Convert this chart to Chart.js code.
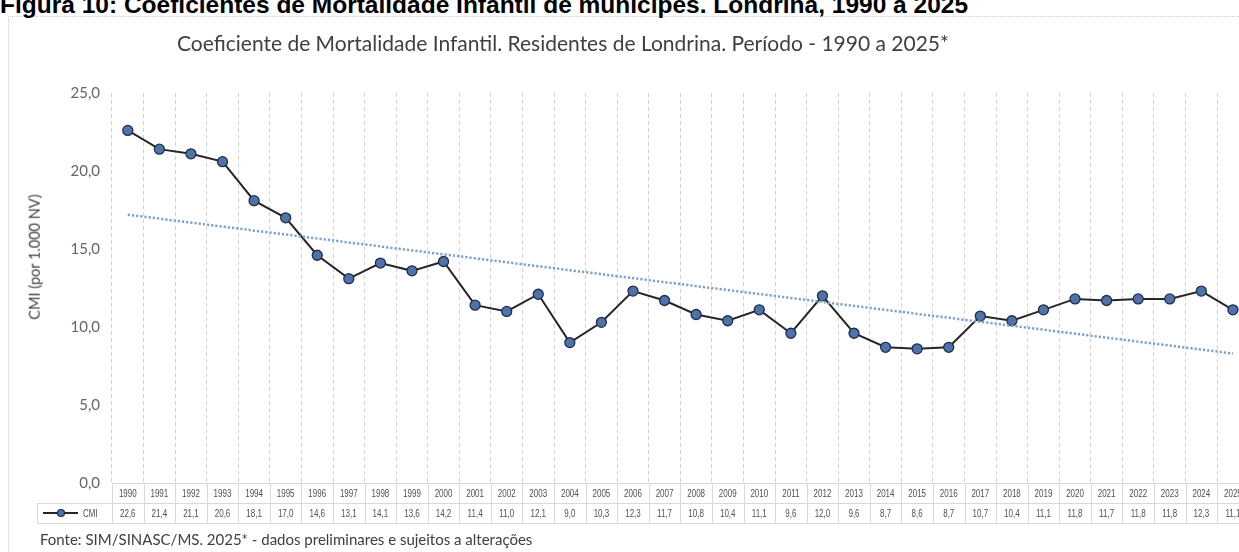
<!DOCTYPE html>
<html lang="pt-BR">
<head>
<meta charset="utf-8">
<title>Coeficiente de Mortalidade Infantil - Londrina</title>
<script src="https://cdn.jsdelivr.net/npm/chart.js@4/dist/chart.umd.min.js"></script>
<style>
  html, body { margin: 0; padding: 0; background: #fff; overflow: hidden; width: 1239px; height: 552px; }
  #caption { position: absolute; left: 0; top: -7px; font: bold 24.5px/1 'Liberation Sans', Arial, sans-serif; color: #000; white-space: nowrap; }
  #frame { position: absolute; left: 8px; top: 16px; width: 1300px; height: 600px; border-top: 1px dotted #cfcfcf; border-left: 1px dotted #cfcfcf; }
  #title { position: absolute; left: 177px; top: 30px; font: 21px/1.2 Lato, 'Open Sans', sans-serif; color: #404040; white-space: nowrap; }
  #ytitle { position: absolute; left: 35px; top: 257px; transform: translate(-50%, -50%) rotate(-90deg); font: 14.5px/1 Lato, 'Open Sans', sans-serif; color: #404040; white-space: nowrap; }
  #fonte { position: absolute; left: 40px; top: 530px; font: 15px/1.2 Lato, 'Open Sans', sans-serif; color: #404040; white-space: nowrap; }
  #wrap { position: absolute; left: 0; top: 0; width: 1255px; height: 552px; }
</style>
</head>
<body>
<div id="frame"></div>
<div id="caption">Figura 10: Coeficientes de Mortalidade Infantil de munícipes. Londrina, 1990 a 2025</div>
<div id="wrap"><canvas id="cmiChart"></canvas></div>
<div id="title">Coeficiente de Mortalidade Infantil. Residentes de Londrina. Período - 1990 a 2025*</div>
<div id="ytitle">CMI (por 1.000 NV)</div>
<div id="fonte">Fonte: SIM/SINASC/MS. 2025* - dados preliminares e sujeitos a alterações</div>
<script>
const anos = ['1990','1991','1992','1993','1994','1995','1996','1997','1998','1999',
  '2000','2001','2002','2003','2004','2005','2006','2007','2008','2009',
  '2010','2011','2012','2013','2014','2015','2016','2017','2018','2019',
  '2020','2021','2022','2023','2024','2025'];
const cmi = [22.6, 21.4, 21.1, 20.6, 18.1, 17.0, 14.6, 13.1, 14.1, 13.6,
  14.2, 11.4, 11.0, 12.1, 9.0, 10.3, 12.3, 11.7, 10.8, 10.4,
  11.1, 9.6, 12.0, 9.6, 8.7, 8.6, 8.7, 10.7, 10.4, 11.1,
  11.8, 11.7, 11.8, 11.8, 12.3, 11.1];
// linha de tendência linear (extremos)
const tendInicio = 17.2;
const tendFim = 8.3;
const yTicks = [0, 5, 10, 15, 20, 25];

const tendencia = anos.map((a, i) => i === 0 ? tendInicio : (i === anos.length - 1 ? tendFim : null));

const fmt = v => v.toFixed(1).replace('.', ',');

const TABLE_FONT = "10px 'Liberation Sans', Arial, sans-serif";
const SQUEEZE = 0.8;

function textoEstreito(ctx, txt, x, y) {
  ctx.save();
  ctx.translate(x, y);
  ctx.scale(SQUEEZE, 1);
  ctx.fillText(txt, 0, 0);
  ctx.restore();
}

const tabelaPlugin = {
  id: 'tabelaDados',
  afterDraw(chart) {
    const ctx = chart.ctx;
    const xs = chart.scales.x;
    const top = chart.chartArea.bottom;
    const rowH = 20;
    const colW = (xs.right - xs.left) / anos.length;
    const legLeft = 37;
    ctx.save();
    ctx.strokeStyle = '#d9d9d9';
    ctx.lineWidth = 1;
    ctx.beginPath();
    ctx.moveTo(xs.left, top + 0.5); ctx.lineTo(xs.right, top + 0.5);
    ctx.moveTo(legLeft, top + rowH + 0.5); ctx.lineTo(xs.right, top + rowH + 0.5);
    ctx.moveTo(legLeft, top + 2 * rowH + 0.5); ctx.lineTo(xs.right, top + 2 * rowH + 0.5);
    for (let i = 0; i <= anos.length; i++) {
      const x = Math.round(xs.left + i * colW) + 0.5;
      ctx.moveTo(x, top); ctx.lineTo(x, top + 2 * rowH);
    }
    ctx.moveTo(legLeft + 0.5, top + rowH); ctx.lineTo(legLeft + 0.5, top + 2 * rowH);
    ctx.stroke();

    ctx.fillStyle = '#505050';
    ctx.font = TABLE_FONT;
    ctx.textAlign = 'center';
    ctx.textBaseline = 'middle';
    anos.forEach((a, i) => {
      const x = xs.getPixelForValue(i);
      textoEstreito(ctx, a, x, top + rowH / 2 + 1);
      textoEstreito(ctx, fmt(cmi[i]), x, top + rowH * 1.5 + 1);
    });

    // chave da legenda
    const ly = top + rowH * 1.5;
    ctx.strokeStyle = '#262626';
    ctx.lineWidth = 2;
    ctx.beginPath();
    ctx.moveTo(43, ly); ctx.lineTo(78, ly);
    ctx.stroke();
    ctx.beginPath();
    ctx.arc(61, ly, 3.5, 0, Math.PI * 2);
    ctx.fillStyle = '#4f73a8';
    ctx.fill();
    ctx.lineWidth = 1.2;
    ctx.strokeStyle = '#1e2f4d';
    ctx.stroke();
    ctx.fillStyle = '#505050';
    ctx.textAlign = 'left';
    textoEstreito(ctx, 'CMI', 83, ly + 1);
    ctx.restore();
  }
};

new Chart(document.getElementById('cmiChart'), {
  type: 'line',
  data: {
    labels: anos,
    datasets: [
      {
        label: 'Linear (CMI)',
        data: tendencia,
        spanGaps: true,
        borderColor: '#7d9fcb',
        borderWidth: 2.5,
        borderDash: [2.2, 2],
        pointRadius: 0,
        fill: false
      },
      {
        label: 'CMI',
        data: cmi,
        borderColor: '#262626',
        borderWidth: 2,
        tension: 0,
        pointRadius: 5,
        pointHoverRadius: 5,
        pointBackgroundColor: '#4f73a8',
        pointBorderColor: '#1e2f4d',
        pointBorderWidth: 1.3,
        fill: false
      }
    ]
  },
  options: {
    responsive: true, maintainAspectRatio: false, animation: false,
    layout: { padding: { top: 93, right: 3, bottom: 0, left: 0 } },
    plugins: { legend: { display: false }, tooltip: { enabled: false }, title: { display: false } },
    scales: {
      x: {
        offset: true,
        ticks: { display: false },
        grid: { offset: true, color: '#d3d3d3', lineWidth: 1, drawTicks: false },
        border: { display: false, dash: [4, 3] },
        afterFit: s => { s.height = 69; }
      },
      y: {
        min: 0, max: 25,
        afterBuildTicks: s => { s.ticks = yTicks.map(v => ({ value: v })); },
        ticks: {
          padding: 12,
          color: '#666666',
          font: { family: 'Lato', size: 15 },
          callback: v => fmt(v)
        },
        grid: { display: false, drawTicks: false },
        border: { display: false },
        afterFit: s => { s.width = 112; }
      }
    }
  },
  plugins: [tabelaPlugin]
});
</script>
</body>
</html>
